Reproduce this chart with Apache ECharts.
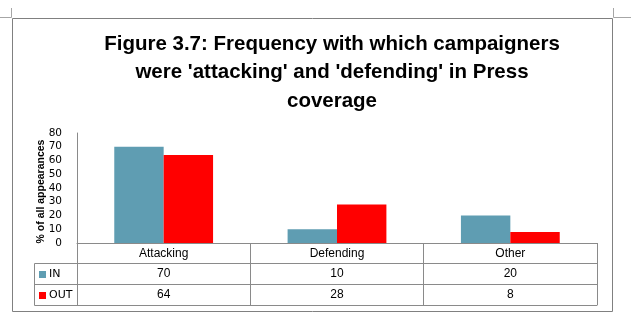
<!DOCTYPE html>
<html><head><meta charset="utf-8">
<script src="https://cdn.jsdelivr.net/npm/echarts@6/dist/echarts.min.js"></script>
<style>html,body{margin:0;padding:0;background:#fff}#c{width:631px;height:326px}</style>
</head><body><div id="c"></div>
<script>
const categories = ['Attacking', 'Defending', 'Other'];
const seriesNames = ['IN', 'OUT'];
const inValues = [70, 10, 20];
const outValues = [64, 28, 8];
const yMin = 0, yMax = 80, yStep = 10;
const titleText = "Figure 3.7: Frequency with which campaigners\nwere 'attacking' and 'defending' in Press\ncoverage";
const yAxisTitle = '% of all appearances';

const colIN = '#5f9db2', colOUT = '#ff0000';
const lineCol = '#8a8a8a';
const tableFont = "'Liberation Sans', Arial, sans-serif";
const tickFont = "'DejaVu Sans', Verdana, sans-serif";

const chart = echarts.init(document.getElementById('c'), null, {renderer: 'canvas'});

function tableAxis(data, offset) {
  return {
    type: 'category', data: data, position: 'bottom', offset: offset,
    axisLine: {show: true, lineStyle: {color: lineCol, width: 1}},
    axisTick: {show: true, interval: 0, length: 21, lineStyle: {color: lineCol}},
    axisLabel: {show: true, interval: 0, margin: 5, color: '#000', fontFamily: tableFont, fontSize: 12, lineHeight: 12},
    splitLine: {show: false}
  };
}

const option = {
  backgroundColor: '#fff',
  animation: false,
  title: {
    text: titleText, left: 332, top: 30, textAlign: 'center', padding: 0,
    textStyle: {fontFamily: "'Liberation Sans', Arial, sans-serif", fontWeight: 'bold', fontSize: 20.5, lineHeight: 28.5, color: '#000'}
  },
  legend: {
    orient: 'vertical', left: 39, top: 268, padding: 0, itemWidth: 7, itemHeight: 7, itemGap: 8,
    icon: 'rect', data: seriesNames,
    textStyle: {fontFamily: tickFont, fontSize: 11, lineHeight: 13, color: '#000', padding: [0,0,0,-2]}
  },
  grid: {left: 77, right: 34, top: 133, bottom: 83, containLabel: false},
  xAxis: [
    tableAxis(categories, 0),
    tableAxis(inValues.map(String), 20),
    tableAxis(outValues.map(String), 41),
    {type: 'category', data: categories, position: 'bottom', offset: 62,
     axisLine: {show: true, lineStyle: {color: lineCol}}, axisTick: {show: false}, axisLabel: {show: false}}
  ],
  yAxis: {
    type: 'value', min: yMin, max: yMax, interval: yStep,
    name: yAxisTitle, nameLocation: 'middle', nameGap: 30, nameRotate: 90, nameMoveOverlap: false,
    nameTextStyle: {fontFamily: "'Liberation Sans', Arial, sans-serif", fontWeight: 'bold', fontSize: 10.5, color: '#000', padding: [0, 7, 0, 0]},
    axisLine: {show: true, lineStyle: {color: lineCol}},
    axisTick: {show: false},
    axisLabel: {margin: 15, color: '#000', fontFamily: tickFont, fontSize: 10.5},
    splitLine: {show: false}
  },
  series: [
    {name: seriesNames[0], type: 'bar', data: inValues, xAxisIndex: 0, barGap: '0%', barCategoryGap: '43%', itemStyle: {color: colIN}},
    {name: seriesNames[1], type: 'bar', data: outValues, xAxisIndex: 0, barGap: '0%', barCategoryGap: '43%', itemStyle: {color: colOUT}}
  ],
  graphic: [
    {type: 'rect', shape: {x: 12.5, y: 18.5, width: 600, height: 293}, style: {fill: 'none', stroke: '#808080', lineWidth: 1}, silent: true},
    {type: 'polyline', shape: {points: [[0, 17.5], [11.5, 17.5], [11.5, 8]]}, style: {fill: 'none', stroke: '#a6a6a6', lineWidth: 1}, silent: true},
    {type: 'polyline', shape: {points: [[631, 17.5], [613.5, 17.5], [613.5, 8]]}, style: {fill: 'none', stroke: '#a6a6a6', lineWidth: 1}, silent: true},
    {type: 'polyline', shape: {points: [[77, 263.5], [34.5, 263.5], [34.5, 305.5], [77, 305.5]]}, style: {fill: 'none', stroke: lineCol, lineWidth: 1}, silent: true},
    {type: 'line', shape: {x1: 34.5, y1: 284.5, x2: 77, y2: 284.5}, style: {stroke: lineCol, lineWidth: 1}, silent: true}
  ]
};
chart.setOption(option);
</script></body></html>
